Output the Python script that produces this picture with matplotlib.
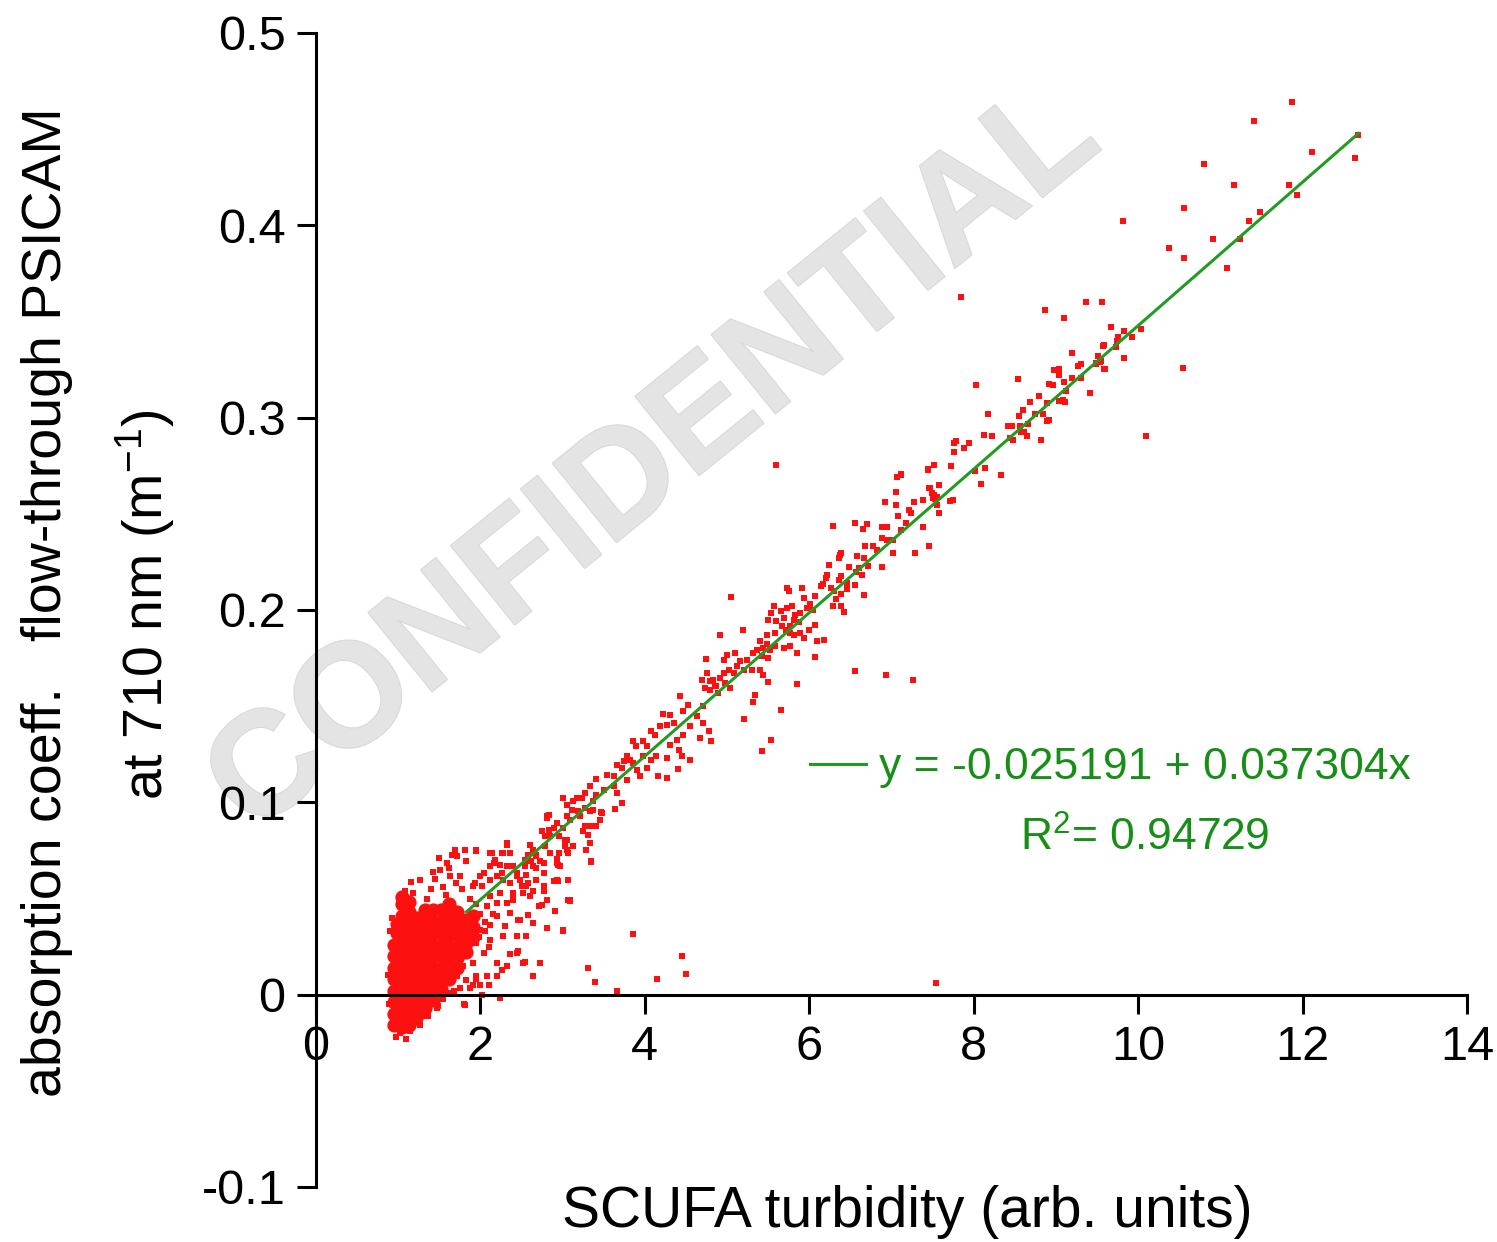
import matplotlib
matplotlib.use("Agg")
import matplotlib.pyplot as plt
import matplotlib.patheffects as pe
import numpy as np

plt.rcParams['font.family'] = ['Liberation Sans', 'DejaVu Sans']
plt.rcParams['axes.unicode_minus'] = False
plt.rcParams['mathtext.default'] = 'regular'

# ---------------- data (SCUFA turbidity, absorption coefficient) ----------------
# dense cluster of low-turbidity samples (read as a filled region)
core_turb = [0.95, 0.95, 0.95, 0.95, 0.95, 0.95, 0.95, 0.95,
             0.99, 0.99,
             1.04, 1.04, 1.04, 1.04, 1.04, 1.04, 1.04, 1.04, 1.04, 1.04, 1.04, 1.04, 1.04,
             1.13, 1.13, 1.13, 1.13, 1.13, 1.13, 1.13, 1.13, 1.13, 1.13, 1.13, 1.13,
             1.22, 1.22, 1.22, 1.22, 1.22, 1.22, 1.22, 1.22, 1.22, 1.22,
             1.32, 1.32, 1.32, 1.32, 1.32, 1.32, 1.32, 1.32, 1.32, 1.32,
             1.42, 1.42, 1.42, 1.42, 1.42, 1.42, 1.42, 1.42, 1.42,
             1.52, 1.52, 1.52, 1.52, 1.52, 1.52, 1.52, 1.52,
             1.62, 1.62, 1.62, 1.62, 1.62, 1.62, 1.62, 1.62,
             1.72, 1.72, 1.72, 1.72, 1.72, 1.72,
             1.82, 1.82, 1.82, 1.82,
             1.91, 1.91, 1.91]
core_abs = [-0.016, -0.010, -0.004, 0.002, 0.008, 0.014, 0.020, 0.026,
            0.032, 0.037,
            -0.017, -0.013, -0.007, -0.001, 0.005, 0.011, 0.017, 0.023, 0.029, 0.035, 0.041, 0.047, 0.051,
            -0.016, -0.011, -0.005, 0.001, 0.007, 0.013, 0.019, 0.025, 0.031, 0.037, 0.043, 0.048,
            -0.012, -0.007, -0.001, 0.005, 0.011, 0.017, 0.023, 0.029, 0.035, 0.040,
            -0.007, -0.002, 0.004, 0.010, 0.016, 0.022, 0.028, 0.034, 0.040, 0.044,
            -0.003, 0.002, 0.008, 0.014, 0.020, 0.026, 0.032, 0.038, 0.044,
            0.003, 0.008, 0.014, 0.020, 0.026, 0.032, 0.038, 0.044,
            0.008, 0.013, 0.019, 0.025, 0.031, 0.037, 0.042, 0.047,
            0.014, 0.019, 0.025, 0.031, 0.037, 0.043,
            0.022, 0.027, 0.033, 0.039,
            0.030, 0.035, 0.041]

# scattered samples around the cluster
cluster_edge = [
    (1.69, 0.0754), (1.65, 0.0728), (1.72, 0.0719), (1.81, 0.0751), (1.95, 0.0751), (1.83, 0.0693),
    (1.59, 0.0685), (1.51, 0.0650), (1.16, 0.0584), (1.27, 0.0598), (2.12, 0.0737), (2.18, 0.0702),
    (2.32, 0.0789), (2.28, 0.0737), (2.36, 0.0667), (2.26, 0.0633), (2.12, 0.0598), (1.99, 0.0615),
    (1.91, 0.0563), (1.75, 0.0615), (1.63, 0.0615), (2.12, 0.0667), (2.44, 0.0615), (2.54, 0.0667),
    (2.68, 0.0719), (2.77, 0.0685), (2.85, 0.0737), (2.93, 0.0685), (3.03, 0.0806), (2.93, 0.0598),
    (2.68, 0.0598), (2.56, 0.0563), (2.77, 0.0537), (3.07, 0.0494), (2.91, 0.0433), (2.75, 0.0468),
    (2.60, 0.0511), (2.40, 0.0520), (2.32, 0.0477), (2.20, 0.0477), (2.08, 0.0459), (2.20, 0.0407),
    (2.36, 0.0425), (2.46, 0.0390), (2.64, 0.0373), (2.81, 0.0347), (3.01, 0.0338), (2.30, 0.0355),
    (2.12, 0.0364), (1.99, 0.0338), (2.28, 0.0303), (2.12, 0.0286), (2.44, 0.0303), (2.56, 0.0303),
    (1.95, 0.0269), (2.04, 0.0217), (1.87, 0.0217), (1.91, 0.0165), (1.79, 0.0147), (1.71, 0.0095),
    (1.83, 0.0078), (1.95, 0.0095), (1.99, 0.0052), (1.91, 0.0052), (2.20, 0.0165), (2.32, 0.0147),
    (2.44, 0.0217), (2.52, 0.0165), (2.73, 0.0165), (2.64, 0.0095), (2.08, 0.0095), (1.75, 0.0035),
    (1.62, 0.0009), (2.02, 0.0000), (2.24, -0.0017), (1.81, -0.0052), (1.49, -0.0061), (1.39, -0.0043),
    (1.31, -0.0113), (1.14, -0.0173), (1.02, -0.0199), (1.04, -0.0147), (1.00, -0.0180), (1.14, -0.0190),
    (1.40, 0.0550), (1.45, 0.0600), (1.55, 0.0560), (1.35, 0.0500), (1.70, 0.0580), (1.78, 0.0550),
    (1.58, 0.0520), (1.87, 0.0500), (1.95, 0.0470), (1.50, 0.0710), (1.62, 0.0660), (1.42, 0.0640),
    (1.55, -0.0020), (1.68, 0.0020), (1.58, 0.0060), (1.47, -0.0070), (1.80, -0.0050),
    (2.54, 0.0168), (2.46, 0.0225), (2.36, 0.0213), (2.26, 0.0130), (2.20, 0.0095), (2.10, 0.0052),
    (1.95, 0.0081), (1.87, 0.0035), (2.40, 0.0494), (2.51, 0.0563), (2.56, 0.0624), (2.64, 0.0667),
    (2.58, 0.0416), (2.48, 0.0390), (2.71, 0.0459), (2.81, 0.0494),
    (3.09, 0.0489), (2.89, 0.0593), (2.93, 0.0706), (2.79, 0.0771), (2.83, 0.0858), (2.81, 0.0919),
    (3.05, 0.0927), (3.19, 0.0953), (3.25, 0.0849), (3.33, 0.0875), (3.46, 0.0910), (3.64, 0.0965),
    (3.72, 0.0997), (3.37, 0.0962), (3.48, 0.0945), (3.05, 0.0806), (3.03, 0.0771), (3.07, 0.0737),
    (3.33, 0.0789), (3.29, 0.0754), (3.35, 0.0693), (3.07, 0.0598), (2.97, 0.0667),
    (2.00, 0.0420), (2.05, 0.0380), (1.98, 0.0300), (2.06, 0.0330), (2.15, 0.0420), (2.10, 0.0250),
    (0.90, 0.0330), (0.88, 0.0100), (0.89, -0.0050), (0.93, 0.0400), (1.08, 0.0540), (1.18, 0.0530),
    (0.97, -0.0220), (1.10, -0.0230), (1.26, -0.0160), (1.36, -0.0110),
]

# samples along the regression line, turbidity 1.9 - 4.9
line_low = [
    (4.79, 0.1629), (4.85, 0.1603), (4.89, 0.1569), (4.43, 0.1551), (4.53, 0.1508), (4.71, 0.1499),
    (4.47, 0.1473), (4.63, 0.1447), (4.31, 0.1456), (4.22, 0.1459), (4.35, 0.1413), (4.27, 0.1404),
    (4.19, 0.1395), (4.55, 0.1395), (4.71, 0.1413), (4.78, 0.1369), (4.67, 0.1335), (4.81, 0.1317),
    (4.47, 0.1352), (4.39, 0.1326), (4.31, 0.1300), (4.41, 0.1274), (4.45, 0.1239), (4.55, 0.1222),
    (4.40, 0.1173), (4.27, 0.1231), (4.12, 0.1352), (4.08, 0.1369), (3.98, 0.1317), (4.02, 0.1291),
    (3.86, 0.1317), (3.89, 0.1291), (4.14, 0.1239), (4.08, 0.1222), (3.98, 0.1239), (4.02, 0.1179),
    (4.16, 0.1135), (4.27, 0.1127), (3.78, 0.1239), (3.82, 0.1222), (3.86, 0.1205), (3.75, 0.1213),
    (3.66, 0.1196), (3.72, 0.1179), (3.90, 0.1167), (3.94, 0.1135), (3.78, 0.1118), (3.62, 0.1135),
    (3.54, 0.1144), (3.41, 0.1121), (3.33, 0.1083), (3.62, 0.1083), (3.66, 0.1049), (3.72, 0.0997),
    (3.50, 0.1066), (3.41, 0.1040), (3.37, 0.1005), (3.27, 0.1049), (3.23, 0.1023), (3.17, 0.1023),
    (3.13, 0.1005), (3.01, 0.1023), (3.27, 0.0971), (3.33, 0.0953), (3.47, 0.0948), (3.21, 0.0927),
    (3.11, 0.0962), (3.05, 0.0988), (3.09, 0.0910), (3.01, 0.0867), (3.27, 0.0875), (3.41, 0.0879),
    (3.31, 0.0832), (3.33, 0.0789), (2.81, 0.0927), (2.83, 0.0936), (2.93, 0.0893), (2.89, 0.0867),
    (2.75, 0.0849), (2.79, 0.0823), (2.85, 0.0823), (2.95, 0.0823), (3.03, 0.0806), (3.05, 0.0754),
    (3.13, 0.0771), (2.95, 0.0737), (2.94, 0.0676), (3.35, 0.0688), (2.60, 0.0780), (2.64, 0.0754),
    (2.68, 0.0728), (2.58, 0.0728), (2.54, 0.0702), (2.62, 0.0693), (2.72, 0.0693), (2.68, 0.0659),
    (2.77, 0.0633), (2.32, 0.0780), (2.36, 0.0737), (2.26, 0.0737), (2.14, 0.0737), (1.95, 0.0745),
    (2.16, 0.0685), (2.24, 0.0676), (2.32, 0.0667), (2.40, 0.0667), (2.44, 0.0633), (2.48, 0.0598),
    (2.36, 0.0581), (2.28, 0.0598), (2.20, 0.0615), (2.12, 0.0598), (2.04, 0.0633), (2.02, 0.0564),
    (1.93, 0.0581), (2.58, 0.0581), (2.68, 0.0598), (2.77, 0.0564), (2.64, 0.0538), (2.52, 0.0529),
    (2.40, 0.0529), (2.24, 0.0529), (2.12, 0.0511), (2.94, 0.0590), (3.09, 0.0494),
]

# samples along the regression line, turbidity 4.7 - 7.8
line_mid = [
    (5.60, 0.2756), (7.11, 0.2709), (7.07, 0.2692), (7.45, 0.2733), (7.52, 0.2753), (7.72, 0.2751),
    (7.76, 0.2820), (7.76, 0.2869), (7.58, 0.2652), (7.47, 0.2635), (7.52, 0.2600), (7.53, 0.2577),
    (7.55, 0.2548), (7.58, 0.2505), (7.71, 0.2569), (7.75, 0.2574), (7.38, 0.2574), (7.27, 0.2560),
    (7.21, 0.2522), (7.24, 0.2505), (7.06, 0.2612), (7.06, 0.2548), (6.92, 0.2560), (7.08, 0.2491),
    (7.18, 0.2453), (7.12, 0.2418), (7.38, 0.2432), (7.46, 0.2335), (7.29, 0.2297), (7.02, 0.2297),
    (6.94, 0.2362), (7.02, 0.2362), (6.89, 0.2430), (6.95, 0.2432), (6.88, 0.2375), (6.88, 0.2222),
    (6.55, 0.2453), (6.70, 0.2449), (6.65, 0.2421), (6.29, 0.2435), (6.78, 0.2335), (6.82, 0.2314),
    (6.68, 0.2331), (6.66, 0.2271), (6.58, 0.2279), (6.72, 0.2231), (6.37, 0.2288), (6.38, 0.2297),
    (6.36, 0.2271), (6.24, 0.2236), (6.48, 0.2224), (6.61, 0.2219), (6.57, 0.2196), (6.64, 0.2184),
    (6.21, 0.2184), (6.20, 0.2167), (6.38, 0.2179), (6.36, 0.2158), (6.46, 0.2141), (6.17, 0.2137),
    (6.14, 0.2123), (6.27, 0.2115), (6.30, 0.2097), (6.38, 0.2085), (6.46, 0.2110), (6.56, 0.2132),
    (6.67, 0.2080), (6.33, 0.2057), (6.29, 0.2023), (6.38, 0.2023), (6.42, 0.1988), (6.07, 0.2071),
    (6.01, 0.2033), (6.05, 0.1999), (5.93, 0.2063), (5.91, 0.2115), (5.73, 0.2115), (5.75, 0.2097),
    (5.97, 0.2011), (5.89, 0.1985), (5.83, 0.1976), (5.79, 0.2023), (5.73, 0.2011), (5.65, 0.1993),
    (5.57, 0.2019), (5.54, 0.1985), (5.50, 0.1950), (5.60, 0.1941), (5.67, 0.1915), (5.72, 0.1898),
    (5.77, 0.1915), (5.82, 0.1950), (5.87, 0.1936), (5.69, 0.1959), (5.76, 0.1881), (5.81, 0.1872),
    (5.89, 0.1881), (5.93, 0.1855), (6.00, 0.1895), (6.07, 0.1924), (6.09, 0.1837), (6.18, 0.1842),
    (5.85, 0.1777), (5.77, 0.1815), (5.69, 0.1803), (5.58, 0.1881), (5.48, 0.1872), (5.48, 0.1825),
    (5.44, 0.1803), (5.52, 0.1790), (5.40, 0.1837), (5.36, 0.1794), (5.42, 0.1763), (5.50, 0.1751),
    (5.58, 0.1815), (6.07, 0.1756), (5.19, 0.1898), (5.05, 0.2068), (4.92, 0.1872), (5.32, 0.1777),
    (5.24, 0.1742), (5.16, 0.1733), (5.10, 0.1777), (5.00, 0.1768), (4.96, 0.1742), (5.12, 0.1707),
    (5.02, 0.1690), (5.20, 0.1690), (5.30, 0.1690), (5.40, 0.1690), (5.44, 0.1664), (5.50, 0.1624),
    (5.08, 0.1673), (4.96, 0.1673), (4.92, 0.1647), (4.83, 0.1638), (4.75, 0.1673), (4.74, 0.1745),
    (4.98, 0.1621), (4.87, 0.1603), (4.79, 0.1586), (4.73, 0.1595), (4.69, 0.1638), (5.03, 0.1595),
    (5.34, 0.1560), (5.85, 0.1617), (6.56, 0.1681), (6.93, 0.1664), (7.26, 0.1638),
]

# samples along the regression line, turbidity 7.1 - 12.7
line_high = [
    (7.85, 0.3625), (8.87, 0.3560), (9.37, 0.3600), (9.56, 0.3600), (9.10, 0.3520), (9.67, 0.3470),
    (9.83, 0.3450), (10.04, 0.3460), (9.76, 0.3420), (9.74, 0.3400), (9.59, 0.3380), (9.92, 0.3420),
    (9.73, 0.3370), (9.83, 0.3310), (9.51, 0.3320), (9.54, 0.3290), (9.49, 0.3285), (9.59, 0.3255),
    (9.19, 0.3335), (9.30, 0.3280), (9.27, 0.3270), (8.98, 0.3247), (9.04, 0.3255), (9.04, 0.3220),
    (9.20, 0.3207), (9.31, 0.3207), (8.92, 0.3175), (8.96, 0.3172), (9.10, 0.3184), (9.42, 0.3127),
    (9.12, 0.3140), (8.79, 0.3115), (8.89, 0.3077), (9.04, 0.3085), (9.09, 0.3094), (9.11, 0.3082),
    (8.69, 0.3080), (8.60, 0.3042), (8.75, 0.3018), (8.84, 0.3018), (8.55, 0.3007), (8.17, 0.3021),
    (8.03, 0.3172), (8.54, 0.3201), (8.42, 0.2955), (8.47, 0.2959), (8.56, 0.2955), (8.66, 0.2969),
    (8.58, 0.2924), (8.61, 0.2928), (8.44, 0.2895), (8.48, 0.2883), (8.65, 0.2903), (8.82, 0.2883),
    (8.89, 0.2981), (8.92, 0.2987), (8.12, 0.2912), (8.22, 0.2907), (7.94, 0.2869), (7.79, 0.2877),
    (7.88, 0.2844), (7.76, 0.2822), (7.72, 0.2751), (7.52, 0.2752), (7.45, 0.2730), (8.14, 0.2739),
    (8.02, 0.2721), (8.33, 0.2701), (8.09, 0.2657), (7.58, 0.2650), (7.46, 0.2633), (7.49, 0.2609),
    (7.55, 0.2588), (7.51, 0.2583), (10.09, 0.2907), (7.11, 0.2704),
    (11.87, 0.4640), (11.41, 0.4545), (12.12, 0.4380), (12.64, 0.4350), (12.68, 0.4470), (10.80, 0.4320),
    (11.16, 0.4210), (11.83, 0.4210), (11.93, 0.4160), (10.56, 0.4090), (11.48, 0.4070), (11.35, 0.4020),
    (9.81, 0.4025), (10.91, 0.3930), (11.24, 0.3930), (10.38, 0.3880), (10.56, 0.3830), (11.08, 0.3780),
    (9.37, 0.3600), (9.56, 0.3600), (9.73, 0.3365), (9.57, 0.3375), (9.51, 0.3320), (9.83, 0.3310),
    (9.49, 0.3280), (9.55, 0.3297), (9.60, 0.3255), (10.55, 0.3260),
]

# isolated outliers
outliers = [
    (5.53, 0.1323), (5.43, 0.1267), (5.66, 0.1478), (5.20, 0.1433), (5.32, 0.1520),
    (3.86, 0.0317), (4.45, 0.0199), (4.50, 0.0109), (4.15, 0.0081), (3.66, 0.0021),
    (3.31, 0.0139), (3.39, 0.0064), (7.54, 0.0060), (3.00, 0.0330),
]

# regression reported on the chart
fit_intercept = -0.025191
fit_slope = 0.037304
fit_r2 = 0.94729
fit_turb_range = [1.83, 12.68]

x_ticks = [0, 2, 4, 6, 8, 10, 12, 14]
x_tick_labels = ['0', '2', '4', '6', '8', '10', '12', '14']
y_ticks = [-0.1, 0.0, 0.1, 0.2, 0.3, 0.4, 0.5]
y_tick_labels = ['-0.1', '0', '0.1', '0.2', '0.3', '0.4', '0.5']

x_label = 'SCUFA turbidity (arb. units)'
y_label_1 = 'absorption coeff.   flow-through PSICAM'
y_label_2 = 'at 710 nm (m$^{-1}$)'
watermark = 'CONFIDENTIAL'

# ---------------- drawing ----------------
W, H = 1497, 1242
fig = plt.figure(figsize=(W / 100, H / 100), dpi=100)
ax = fig.add_axes([316 / W, 55 / H, 1151 / W, 1154 / H])
ax.set_facecolor('none')

fig.text(655 / W, 1 - 462 / H, watermark, rotation=39, fontsize=106,
         fontweight='bold', color='#e4e4e4', ha='center', va='center',
         rotation_mode='anchor', zorder=-5,
         path_effects=[pe.withStroke(linewidth=1.5, foreground='#d8d8d8')])

red = '#ff1010'
ax.scatter(core_turb, core_abs, s=105, marker='o', c=red, linewidths=0, zorder=2)
for pts in (cluster_edge, line_low, line_mid, line_high, outliers):
    arr = np.array(pts)
    ax.scatter(arr[:, 0], arr[:, 1], s=13, marker='s', c=red, linewidths=0, zorder=2)

fx = np.array(fit_turb_range)
fit_line, = ax.plot(fx, fit_intercept + fit_slope * fx, color='#239b23', lw=2.2, zorder=3)

green_txt = '#178f17'
leg = ax.legend([fit_line], [f'y = {fit_intercept:.6f} + {fit_slope:.6f}x'],
                loc='center left', bbox_to_anchor=(810 / W, 1 - 768 / H),
                bbox_transform=fig.transFigure, frameon=False, fontsize=32,
                handlelength=1.25, handletextpad=0.3, borderpad=0, borderaxespad=0,
                labelcolor=green_txt)
fig.text(1145 / W, 1 - 838 / H, f'R$^{{2}}$= {fit_r2:.5f}', fontsize=32,
         color=green_txt, ha='center', va='center')

ax.set_xlim(0, 14)
ax.set_ylim(-0.1, 0.5)
ax.spines['top'].set_visible(False)
ax.spines['right'].set_visible(False)
ax.spines['bottom'].set_position(('data', 0))
for s in ('left', 'bottom'):
    ax.spines[s].set_linewidth(2.2)
ax.set_xticks(x_ticks)
ax.set_xticklabels(x_tick_labels)
ax.set_yticks(y_ticks)
ax.set_yticklabels(y_tick_labels)
ax.tick_params(axis='both', direction='out', length=14, width=2.2,
               labelsize=35, pad=8)

fig.text(907 / W, 1 - 1212 / H, x_label, fontsize=41, ha='center', va='center')
fig.text(47 / W, 1 - 602 / H, y_label_1, fontsize=40, rotation=90,
         ha='center', va='center')
fig.text(145 / W, 1 - 605 / H, y_label_2, fontsize=40, rotation=90,
         ha='center', va='center')

fig.savefig('out.png', dpi=100)
